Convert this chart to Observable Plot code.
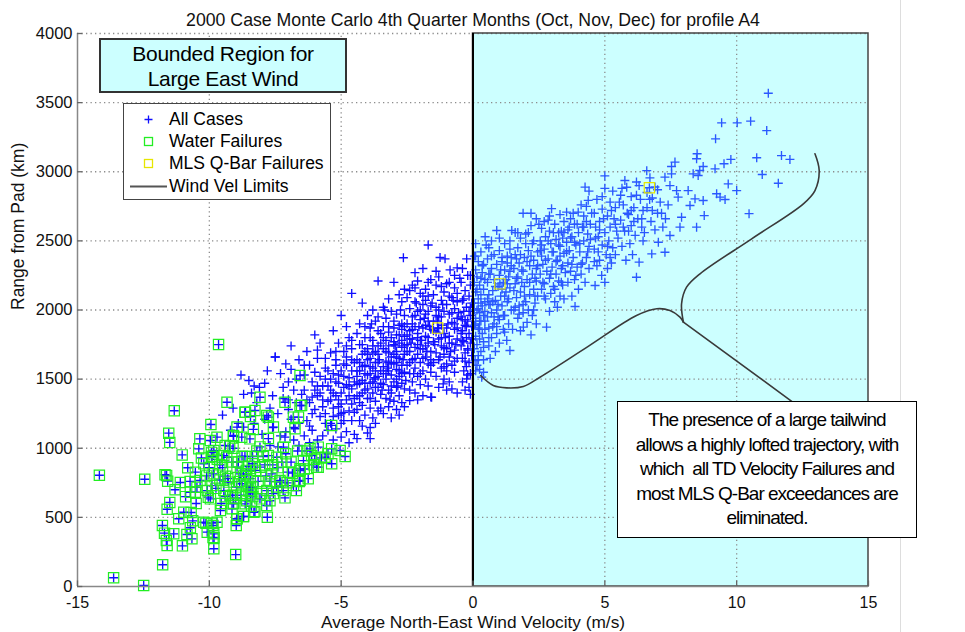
<!DOCTYPE html>
<html><head><meta charset="utf-8">
<script src="https://cdn.jsdelivr.net/npm/d3@7"></script>
<script src="https://cdn.jsdelivr.net/npm/@observablehq/plot@0.6"></script>
<style>
body{margin:0;background:#fff;}
#wrap{position:relative;width:965px;height:632px;overflow:hidden;font-family:"Liberation Sans",Arial,sans-serif;color:#000;}
.box{position:absolute;box-sizing:border-box;}
#bounded{left:99px;top:38px;width:248px;height:55px;background:#ccffff;border:2px solid #333;text-align:center;font-size:21px;line-height:25px;padding-top:1px;letter-spacing:-0.3px;}
#legend{left:123px;top:103px;width:208px;height:97px;background:#fff;border:1.5px solid #444;font-size:17.5px;}
.row{position:absolute;left:0;height:20px;line-height:20px;}
.row svg{position:absolute;left:0;top:0;}
.row span{position:absolute;left:45px;white-space:nowrap;}
#note{left:617px;top:401px;width:300px;height:137px;background:#fff;border:1.5px solid #000;text-align:center;font-size:19px;line-height:24.6px;padding-top:6px;letter-spacing:-1px;white-space:pre;}
#edge{left:900px;top:0;width:1px;height:632px;background:#ddd;}
</style></head><body><div id="wrap"></div>
<script>
// ---- axis ticks ----
const xTicks = [-15, -10, -5, 0, 5, 10, 15];
const yTicks = [0, 500, 1000, 1500, 2000, 2500, 3000, 3500, 4000];
const titleText = "2000 Case Monte Carlo 4th Quarter Months (Oct, Nov, Dec) for profile A4";
const xLabel = "Average North-East Wind Velocity (m/s)";
const yLabel = "Range from Pad (km)";
const legendLabels = ["All Cases", "Water Failures", "MLS Q-Bar Failures", "Wind Vel Limits"];
const boundedText = ["Bounded Region for", "Large East Wind"];
const noteText = ["The presence of a large tailwind", "allows a highly lofted trajectory, with", "which  all TD Velocity Failures and", "most MLS Q-Bar exceedances are", "eliminated."];
const windVelLimit = [0];
const boundedRegion = [{x1: 0, x2: 15, y1: 0, y2: 4000}];

// ---- All Cases (blue +), [velocity m/s, range km] ----
const casesFarLeft = [
[-9.5,1240],[-9.2,1130],[-8.8,1530],[-8.9,1180],[-9.1,1290],[-8.7,1390],[-8.7,1153],
[-8.4,1400],[-8.3,1450],[-8.1,1440],[-8.5,1490],[-7.9,1210],[-7.7,1290],[-7.6,1150],[-8.2,1330],[-7.8,1560],[-7.5,1660],[-8.0,1100],[-7.7,1020],[-8.3,1180],[-7.6,1380],[-7.9,1470],
[-7.5,1660],[-7.1,1610],[-6.9,1740],[-6.6,1640],[-7.3,1540],[-7.0,1480],[-6.8,1420],[-7.2,1360],[-6.7,1330],[-7.4,1250],[-6.9,1210],[-7.1,1120],[-6.6,1180],[-6.8,1060],[-7.3,1090],[-7.0,1280],[-6.7,1500],[-7.2,1440],[-6.5,1390],[-6.9,1570],[-7.4,1010],[-6.6,1020],[-6.8,1150],[-7.0,1350],
[-6.0,1820],[-6.3,1700],[-5.8,1760],[-6.2,1600],[-5.9,1650],[-6.4,1530],[-5.6,1580],[-6.1,1480],[-5.7,1450],[-6.4,1420],[-5.9,1380],[-6.2,1330],[-5.5,1340],[-6.0,1280],[-5.8,1230],[-6.3,1200],[-5.6,1180],[-6.1,1130],[-5.7,1090],[-6.4,1090],[-5.9,1060],[-5.5,1130],[-6.2,1040],[-5.6,1500],[-6.0,1420],[-5.8,1520],[-6.3,1350],[-5.7,1300],[-6.1,1250],[-5.5,1450],[-6.4,1600],[-5.9,1710],[-5.6,1650],[-6.2,1160],[-5.8,1400],[-6.0,1550]
];
const casesLeft = [
[-5.0,1960],[-4.6,2120],[-4.8,1880],[-5.3,1850],[-4.7,1800],[-5.1,1760],[-4.9,1700],[-5.4,1690],[-4.6,1720],[-5.2,1640],[-4.8,1600],[-5.0,1560],[-4.5,1620],[-5.3,1540],[-4.7,1510],[-5.1,1470],[-4.9,1440],[-5.4,1420],[-4.6,1430],[-5.2,1380],[-4.8,1350],[-5.0,1320],[-4.5,1360],[-5.3,1290],[-4.7,1270],[-5.1,1240],[-4.9,1200],[-5.4,1180],[-4.6,1200],[-5.2,1140],[-4.8,1120],[-5.0,1080],[-4.5,1100],[-5.3,1060],[-4.7,1040],[-4.9,1610],[-5.1,1530],[-4.6,1560],[-5.2,1480],[-4.8,1460],[-5.0,1400],[-4.5,1480],[-5.4,1350],[-4.7,1380],[-5.1,1300],[-4.9,1260],[-4.6,1320],[-5.3,1230],[-5.0,1180],[-4.8,1660],
[-3.6,2210],[-4.2,2050],[-3.8,2000],[-4.0,1960],[-3.7,1920],[-4.3,1900],[-3.9,1870],[-4.4,1830],[-3.6,1850],[-4.1,1800],[-3.8,1780],[-4.3,1750],[-3.5,1760],[-4.0,1720],[-3.7,1700],[-4.2,1680],[-3.9,1650],[-4.4,1640],[-3.6,1620],[-4.1,1600],[-3.8,1580],[-4.3,1560],[-3.5,1560],[-4.0,1530],[-3.7,1510],[-4.2,1490],[-3.9,1470],[-4.4,1460],[-3.6,1440],[-4.1,1420],[-3.8,1400],[-4.3,1380],[-3.5,1390],[-4.0,1360],[-3.7,1340],[-4.2,1310],[-3.9,1290],[-4.4,1280],[-3.6,1270],[-4.1,1240],[-3.8,1220],[-4.3,1200],[-3.9,1150],[-4.4,1070],[-3.9,1070],[-4.0,1110],[-3.7,1180],[-4.2,1160],[-3.5,1290],[-4.1,1700],[-3.8,1690],[-4.3,1620],[-3.6,1740],[-4.0,1640],[-3.7,1560],[-4.2,1590],[-3.9,1540],[-4.4,1520],[-3.6,1520],[-4.1,1470],[-3.8,1480],[-4.0,1430],[-3.7,1440],[-4.2,1400],[-3.5,1470],[-4.3,1330],[-3.9,1360],[-3.6,1950],[-4.1,1880]
];
const casesCenterLeft = [
[-3.2,2080],[-2.6,2150],[-3.0,2200],[-2.8,2110],[-3.4,2020],[-2.7,2060],[-3.1,1990],[-2.9,1970],[-3.3,1940],[-2.6,1960],[-3.0,1920],[-2.8,1890],[-3.4,1880],[-2.7,1860],[-3.2,1840],[-2.9,1820],[-3.1,1800],[-2.6,1810],[-3.3,1780],[-2.8,1760],[-3.0,1750],[-2.7,1730],[-3.4,1720],[-2.9,1700],[-3.2,1690],[-2.6,1680],[-3.1,1660],[-2.8,1650],[-3.3,1630],[-3.0,1610],[-2.7,1600],[-3.4,1590],[-2.9,1570],[-3.2,1560],[-2.6,1550],[-3.1,1530],[-2.8,1520],[-3.3,1500],[-3.0,1480],[-2.7,1470],[-3.4,1460],[-2.9,1440],[-3.2,1420],[-2.6,1430],[-3.1,1400],[-2.8,1380],[-3.3,1360],[-3.0,1340],[-2.7,1330],[-3.2,1300],[-2.9,1280],[-3.4,1250],[-2.6,1300],[-2.8,1240],[-3.1,1220],[-3.0,1870],[-2.7,1780],[-3.2,1740],[-2.9,1620],[-3.3,1540],[-2.6,1740],[-3.1,1450],[-2.8,1560],[-3.0,1680],[-2.7,1900],[-3.4,1800],[-2.9,1500],[-3.2,1620],[-2.64,2378],
[-1.7,2470],[-2.4,2140],[-2.2,2270],[-1.9,2300],[-2.1,2210],[-1.6,2220],[-2.3,2180],[-1.8,2150],[-2.0,2120],[-2.5,2090],[-1.7,2100],[-2.2,2060],[-1.9,2040],[-2.4,2010],[-1.6,2030],[-2.1,1990],[-1.8,1970],[-2.3,1950],[-2.0,1930],[-1.7,1920],[-2.5,1900],[-2.2,1880],[-1.9,1870],[-2.4,1850],[-1.6,1860],[-2.1,1830],[-1.8,1810],[-2.3,1790],[-2.0,1780],[-1.7,1760],[-2.5,1750],[-2.2,1730],[-1.9,1720],[-2.4,1700],[-1.6,1700],[-2.1,1680],[-1.8,1660],[-2.3,1640],[-2.0,1620],[-1.7,1610],[-2.5,1600],[-2.2,1580],[-1.9,1560],[-2.4,1540],[-1.6,1550],[-2.1,1520],[-1.8,1500],[-2.3,1480],[-2.0,1460],[-1.7,1450],[-2.4,1420],[-2.2,1400],[-1.9,1380],[-2.4,1345],[-1.6,1370],[-2.1,1350],[-2.0,2000],[-1.8,1890],[-2.2,1960],[-1.7,1800],[-2.3,1860],[-1.9,1650],[-2.1,1750],[-1.6,1640],[-2.0,1540],[-2.4,1790],[-1.8,2070],[-2.2,2160],[-1.7,1990],[-2.5,1820],
[-1.25,2380],[-1.06,2370],[-0.87,2290],[-0.6,2305],[-1.3,2240],[-0.9,2200],[-1.4,2180],[-0.7,2160],[-1.1,2130],[-1.5,2110],[-0.8,2090],[-1.2,2070],[-0.6,2060],[-1.0,2040],[-1.4,2020],[-0.7,2010],[-1.1,1990],[-0.9,1970],[-1.3,1950],[-0.6,1940],[-1.5,1920],[-0.8,1910],[-1.2,1890],[-1.0,1870],[-0.7,1860],[-1.4,1840],[-1.1,1830],[-0.9,1810],[-1.3,1790],[-0.6,1790],[-1.5,1770],[-0.8,1760],[-1.2,1740],[-1.0,1720],[-0.7,1710],[-1.4,1690],[-1.1,1680],[-0.9,1660],[-1.3,1640],[-0.6,1650],[-1.5,1620],[-0.8,1600],[-1.2,1580],[-1.0,1560],[-0.7,1550],[-1.4,1520],[-1.1,1500],[-1.13,1466],[-0.9,1480],[-1.57,1369],[-1.3,1440],[-0.8,1430],[-0.6,1400],[-1.0,1420],[-0.9,2100],[-1.2,2170],[-0.7,2250],[-1.4,1960],[-1.1,1730],[-0.8,1980],[-1.3,1870],[-0.6,1870],[-1.0,1610],[-1.2,1800],[-0.7,1900],
[-0.24,2370],[-0.4,2300],[-0.2,2250],[-0.45,2200],[-0.1,2180],[-0.3,2140],[-0.15,2100],[-0.4,2070],[-0.05,2050],[-0.25,2020],[-0.35,1990],[-0.1,1960],[-0.45,1950],[-0.2,1920],[-0.3,1890],[-0.05,1880],[-0.4,1850],[-0.15,1830],[-0.25,1800],[-0.35,1770],[-0.1,1760],[-0.45,1740],[-0.2,1710],[-0.3,1690],[-0.05,1670],[-0.4,1650],[-0.15,1620],[-0.25,1590],[-0.35,1560],[-0.1,1540],[-0.24,1502],[-0.4,1480],[-0.15,1440],[-0.3,1420],[-0.1,1390],[-0.2,1720],[-0.3,1930],[-0.1,2020],[-0.4,1780]
];
const casesCoreWest = [
[-5.9,1450],[-5.7,1350],[-5.5,1560],[-5.3,1400],[-5.2,1600],[-5.1,1350],[-4.9,1520],[-4.7,1450],[-4.6,1640],[-4.4,1560],[-4.3,1470],[-4.2,1750],[-4.1,1540],[-4.0,1680],[-3.9,1590],[-4.5,1260],[-5.0,1250],[-5.4,1500],[-4.8,1740],[-4.4,1380],[-6.1,1370],[-5.6,1250],[-5.2,1700],[-4.6,1780],
[-3.9,1800],[-3.8,1740],[-3.7,1620],[-3.6,1680],[-3.5,1830],[-3.4,1540],[-3.3,1700],[-3.2,1880],[-3.1,1610],[-3.0,1770],[-2.9,1660],[-2.8,1820],[-2.7,1540],[-2.6,1880],[-2.5,1700],[-2.4,1620],[-2.3,1900],[-2.2,1650],[-2.1,1800],[-2.0,1720],[-3.75,1500],[-3.45,1420],[-3.15,1350],[-2.85,1450],[-2.55,1490],[-2.25,1540],[-2.05,1880],[-3.55,1640],[-3.25,1580],[-2.95,1740],[-2.65,1640],[-2.35,1760],[-3.85,1900],[-3.35,2000],[-2.75,2000],[-2.15,2050],
[-1.95,1780],[-1.85,1940],[-1.75,1700],[-1.65,1880],[-1.55,2050],[-1.45,1750],[-1.35,1920],[-1.25,1660],[-1.15,2040],[-1.05,1800],[-0.95,1900],[-0.85,1700],[-0.75,2070],[-0.65,1750],[-0.55,1980],[-0.45,1830],[-0.35,2080],[-0.25,1880],[-0.15,1990],[-0.05,1790],[-1.9,2100],[-1.6,1600],[-1.3,2000],[-1.0,2190],[-0.7,1630],[-0.4,1930],[-0.1,2250],[-1.8,1740],[-1.5,1850],[-1.2,1950],[-0.9,1760],[-0.6,2120],[-0.3,1630],[-1.7,2200],[-1.1,1590],[-0.5,2230],[-0.2,1530],[-1.4,2280]
];
const casesCoreEast = [
[0.05,2000],[0.15,2150],[0.25,1860],[0.35,2320],[0.45,1920],[0.55,2080],[0.65,2260],[0.75,1880],[0.85,2170],[0.95,2040],[1.05,2290],[1.15,1960],[1.25,2220],[1.35,2080],[1.45,2380],[1.55,2140],[1.65,2230],[1.75,1970],[1.85,2290],[1.95,2100],[0.2,1640],[0.4,1730],[0.6,1800],[0.8,1950],[1.0,2520],[1.2,1840],[1.4,2500],[1.6,2020],[1.8,2400],[0.1,2390],[0.3,2050],[0.5,2470],[0.7,2390],[0.9,1880],[1.1,2150],[1.3,2340],[1.5,1860],[1.7,2560],[1.9,2040],
[2.05,2350],[2.15,2200],[2.25,2480],[2.35,2100],[2.45,2320],[2.55,2430],[2.65,2200],[2.75,2360],[2.85,2500],[2.95,2260],[3.05,2560],[3.15,2350],[3.25,2470],[3.35,2200],[3.45,2560],[3.55,2420],[3.65,2600],[3.75,2330],[3.85,2490],[3.95,2620],[2.1,2560],[2.5,2620],[2.9,2680],[3.3,2390],[3.7,2520],[2.3,2000],[2.7,2100],[3.1,2150],[3.5,2270],[3.9,2250],[2.2,2700],[2.6,2470],[3.0,2420],[3.4,2320],[3.8,2700],
[4.05,2480],[4.2,2600],[4.35,2420],[4.5,2700],[4.65,2520],[4.8,2580],[4.95,2660],[5.1,2460],[5.25,2720],[5.4,2620],[5.55,2780],[5.7,2600],[5.85,2700],[6.0,2720],[6.2,2830],[6.4,2660],[6.6,2850],[6.8,2720],[4.3,2750],[4.6,2350],[4.9,2820],[5.2,2380],[5.5,2520],[5.9,2570],[6.3,2900],[6.7,2800],[7.0,2870],[4.1,2330],[4.4,2860],[4.75,2420],[5.3,2860],[5.65,2880],[6.1,2640],[6.5,2560],[7.15,2700]
];
const casesCenterRight = [
[0.1,2480],[0.46,2530],[0.3,2420],[0.05,2390],[0.2,2350],[0.4,2330],[0.1,2290],[0.35,2270],[0.15,2240],[0.45,2220],[0.05,2200],[0.25,2180],[0.4,2150],[0.1,2130],[0.3,2110],[0.2,2080],[0.45,2060],[0.05,2050],[0.35,2030],[0.15,2000],[0.25,1980],[0.4,1960],[0.1,1940],[0.3,1920],[0.05,1890],[0.2,1870],[0.45,1860],[0.35,1830],[0.1,1810],[0.25,1790],[0.4,1770],[0.15,1750],[0.05,1720],[0.3,1700],[0.2,1670],[0.08,1635],[0.4,1640],[0.15,1600],[0.33,1514],[0.25,1570],[0.1,1560],[0.4,1550],[0.2,2010],[0.3,2230],[0.1,1900],[0.45,1990],[0.25,1920],
[0.9,2575],[1.47,2575],[0.7,2500],[1.2,2480],[0.6,2450],[1.0,2430],[1.4,2440],[0.8,2400],[1.3,2390],[0.55,2370],[1.1,2350],[0.9,2330],[1.45,2320],[0.7,2300],[1.2,2290],[0.6,2260],[1.0,2250],[1.35,2240],[0.8,2220],[1.15,2200],[0.55,2200],[0.95,2170],[1.4,2160],[0.75,2140],[1.25,2130],[0.6,2110],[1.05,2100],[0.85,2070],[1.3,2060],[0.65,2040],[1.1,2030],[0.9,2000],[1.45,2000],[0.7,1980],[1.2,1960],[0.55,1950],[1.0,1930],[0.8,1900],[1.35,1900],[0.6,1870],[1.15,1860],[0.9,1830],[0.7,1800],[1.28,1780],[1.0,1760],[0.6,1740],[0.85,1700],[1.4,1707],[0.65,1650],[1.1,2380],[0.75,2060],[1.3,2190],[0.95,1950],[1.2,2100],[0.6,2040],[1.4,2280],
[1.9,2700],[1.6,2560],[2.2,2610],[2.4,2660],[1.8,2520],[2.0,2480],[2.3,2500],[1.7,2450],[2.1,2430],[2.45,2420],[1.6,2400],[1.95,2380],[2.3,2360],[1.75,2340],[2.15,2320],[2.4,2300],[1.55,2300],[1.9,2280],[2.25,2260],[1.7,2240],[2.05,2220],[2.4,2210],[1.6,2190],[1.95,2170],[2.3,2150],[1.8,2130],[2.15,2110],[2.45,2100],[1.65,2090],[2.0,2060],[2.35,2050],[1.75,2030],[2.1,2000],[1.55,2000],[1.9,1980],[2.25,1960],[1.7,1940],[2.05,1910],[1.91,1876],[2.4,1900],[1.8,1850],[2.2,1820],[2.0,2550],[1.85,2200],[2.2,2390],[2.35,2230],[1.65,2370]
];
const casesRight = [
[2.98,2733],[3.3,2690],[2.7,2640],[3.1,2620],[3.45,2640],[2.6,2590],[2.9,2570],[3.25,2560],[2.75,2530],[3.15,2510],[3.4,2520],[2.55,2500],[2.95,2480],[3.3,2460],[2.7,2440],[3.05,2420],[3.45,2410],[2.6,2390],[2.85,2370],[3.2,2360],[2.65,2330],[3.0,2310],[3.35,2300],[2.8,2280],[3.15,2260],[2.55,2260],[2.9,2230],[3.25,2210],[2.7,2190],[3.05,2170],[3.4,2180],[2.6,2150],[2.95,2120],[3.3,2100],[2.75,2080],[3.1,2060],[2.79,1876],[2.9,1990],[3.2,2020],[3.45,2080],[3.35,2570],[2.85,2650],
[3.55,2708],[3.99,2708],[4.25,2889],[4.37,2793],[4.1,2760],[3.7,2660],[4.3,2640],[3.85,2620],[4.15,2600],[4.45,2620],[3.6,2580],[4.0,2560],[4.35,2550],[3.75,2530],[4.2,2500],[3.55,2490],[3.9,2470],[4.4,2460],[3.65,2430],[4.05,2420],[4.3,2380],[3.8,2380],[4.15,2340],[3.6,2340],[3.95,2310],[4.4,2300],[3.7,2280],[4.1,2260],[3.85,2220],[4.25,2200],[3.6,2200],[4.0,2150],[3.87,2025],[3.75,2100],[4.45,2510],[4.2,2680],
[5.0,2970],[5.0,2880],[4.7,2800],[5.2,2780],[4.9,2730],[5.4,2740],[4.6,2700],[5.1,2680],[5.35,2660],[4.8,2640],[5.2,2600],[4.65,2600],[5.0,2560],[5.45,2570],[4.75,2530],[5.15,2500],[4.9,2470],[5.3,2450],[4.6,2440],[5.05,2400],[4.8,2360],[5.25,2340],[4.63,2177],[4.88,2250],[5.1,2300],[5.4,2400],[4.7,2320],[5.0,2200]
];
const casesFarRight = [
[5.83,2888],[5.76,2937],[6.2,2926],[6.59,3008],[5.6,2830],[6.0,2820],[6.35,2800],[5.7,2760],[6.1,2740],[6.45,2720],[5.9,2690],[6.25,2660],[5.6,2650],[6.0,2610],[6.4,2600],[5.75,2570],[6.15,2540],[5.95,2480],[6.3,2346],[6.2,2237],[5.65,2460],[6.45,2500],[6.05,2400],[5.8,2360],
[6.71,2956],[6.9,2890],[7.47,2900],[7.28,2961],[7.53,2985],[6.8,2810],[7.1,2780],[7.4,2760],[6.6,2740],[7.0,2700],[7.3,2660],[6.75,2640],[7.03,2490],[6.78,2406],[7.28,2418],[7.47,2539],[6.9,2580],[7.2,2600],
[7.66,3070],[7.53,3038],[7.72,2864],[8.16,2864],[7.78,2816],[8.35,2985],[8.23,2756],[7.91,2671],[7.85,2599],[8.42,2804],[8.48,2599],[8.5,3130],[8.48,3094],
[8.54,2973],[8.73,3038],[8.6,3009],[8.77,2683],[8.73,2792],[9.2,3238],[9.43,3354],[9.18,3021],[9.24,2841],[9.37,2816],
[9.52,3058],[9.78,3089],[9.56,2799],[9.68,2912],[10.0,2864],[10.02,3354],[10.47,2697],[10.53,3366],
[10.76,3101],[10.97,2980],[11.14,3298],[11.2,3568],[11.58,2917],[11.7,3117],[12.02,3089]
];
// ---- Water Failures (green squares) ----
const waterFailures = [
[-9.65,1750],[-9.33,1333],[-11.33,1271],[-11.54,1109],[-11.5,1042],[-14.17,805],[-12.45,776],[-11.68,808],[-11.58,762],[-11.1,752],[-11.5,608],[-11.6,559],[-11.78,441],[-11.7,386],[-11.63,333],[-11.6,297],[-11.77,157],[-13.63,63],[-12.49,7],[-11.35,381],[-11.02,294],[-11.16,490],[-10.97,537],[-10.69,535],[-10.63,475],[-10.72,425],[-10.85,376],[-10.66,345],[-10.21,465],[-10.08,393],[-9.86,441],[-9.83,381],[-9.86,355],[-9.83,273],[-9.0,231],[-9.71,465],
[-10.36,1068],[-10.4,996],[-11.03,952],[-10.82,859],[-10.53,827],[-10.21,888],[-9.94,1172],[-9.96,1056],[-9.83,984],[-9.88,940],[-9.71,1080],[-9.23,1015],[-9.08,1087],[-9.45,947],[-9.39,798],[-8.76,942],[-8.95,863],[-10.72,682],[-10.53,682],[-10.47,718],[-10.08,694],[-9.96,634],[-9.9,730],[-9.45,694],[-9.2,658],[-9.12,660],[-9.58,550],[-9.14,562],[-8.95,490],[-8.98,441],[-8.7,506],[-8.64,598],[-9.08,598],[-8.76,743],[-8.44,718],[-8.44,670],[-8.31,537],[-8.82,815],[-8.6,840],[-8.37,888],[-8.7,800],[-8.45,780],[-8.95,1153],[-8.63,1261],[-8.44,1230],
[-8.27,542],[-7.8,501],[-7.82,586],[-7.13,641],[-6.59,760],[-8.08,634],[-8.58,620],[-9.09,603],[-9.4,650],[-9.34,935],[-9.4,1020],[-8.36,940],[-8.58,815],[-8.08,863],[-7.76,947],[-7.63,815],[-7.32,767],[-7.0,827],[-6.81,730],[-6.56,839],[-6.43,911],[-6.12,947],[-5.87,863],[-5.61,935],[-5.36,996],[-5.04,984],[-4.85,940],[-5.36,888],[-5.87,1008],[-6.18,996],[-7.13,1080],[-6.75,1141],[-6.62,1225],[-7.13,1333],[-6.56,1309],[-8.08,1369],[-8.27,1273],[-7.76,1225],[-7.57,1153],[-8.65,1261],[-8.77,1080],[-8.46,1068],[-9.09,1092],[-7.76,1070],[-8.33,1136],[-7.19,1008],[-7.44,935],[-8.08,1010],[-9.1,1000],[-9.92,970],[-9.92,940],[-9.85,815],[-9.6,770],[-9.28,755],[-8.97,720],[-8.6,725],[-8.35,720],[-7.82,694],[-7.57,672],[-8.02,672],[-7.2,694],[-6.7,694],[-8.35,650],[-10.35,767],[-10.73,760],[-5.93,863],[-6.56,851],[-6.56,767],[-7.32,755],[-6.5,1309],[-6.81,1225],[-6.56,1526],[-5.36,1165],[-7.82,1237],[-11.62,803],[-10.04,646],[-10.13,458],[-9.91,458],[-9.82,352],[-8.96,490],[-8.71,506],
[-8.9,900],[-8.2,980],[-7.9,880],[-7.4,860],[-6.9,900],[-6.3,980],[-7.7,760],[-8.5,870],[-9.6,880],[-10.0,860],[-9.7,920],[-7.1,960],[-6.0,920],[-5.5,960],[-8.8,660],
[-10.3,930],[-10.1,800],[-9.75,710],[-9.5,860],[-9.3,780],[-9.15,900],[-8.85,760],[-8.65,940],[-8.5,690],[-8.25,840],[-8.15,760],[-7.95,940],[-7.85,800],[-7.6,880],[-7.45,720],[-7.25,900],[-7.05,750],[-6.85,820],[-6.65,980],[-6.4,850],[-6.25,780],[-6.05,880],[-5.75,930],[-9.55,600],[-9.0,640],[-8.4,580],[-7.7,620],[-10.5,600],[-10.9,650],[-11.3,700]
];
// ---- MLS Q-Bar Failures (yellow squares) ----
const qbarFailures = [[-1.34,1869],[1.02,2189],[6.69,2884]];

// ---- annotation brace and pointer (data units) ----
const braceLower = [[0.29,1526],[0.77,1454],[1.28,1437],[1.91,1447],[2.54,1514],[4.37,1737],[6.2,1960],[6.97,2009],[7.47,1996],[7.85,1948],[7.98,1912]];
const braceUpper = [[7.98,1912],[7.91,2045],[8.1,2165],[8.61,2262],[10.57,2515],[12.53,2768],[12.97,2864],[13.13,3009],[12.97,3130]];
const pointer = [[7.98,1912],[12.1,1338]];

const allCases = [...casesFarLeft, ...casesLeft, ...casesCenterLeft, ...casesCoreWest, ...casesCoreEast, ...casesCenterRight, ...casesRight, ...casesFarRight, ...waterFailures, ...qbarFailures];
const onWhite = allCases.filter(d => d[0] < 0);
const onCyan = allCases.filter(d => d[0] >= 0);

const plot = Plot.plot({
  width: 965, height: 632,
  marginLeft: 77, marginRight: 97, marginTop: 33, marginBottom: 46,
  x: {domain: [-15, 15]},
  y: {domain: [0, 4000]},
  style: {fontFamily: "Liberation Sans, Arial, sans-serif", fontSize: "16.5px", color: "#111", background: "transparent"},
  marks: [
    Plot.rect(boundedRegion, {x1: "x1", x2: "x2", y1: "y1", y2: "y2", fill: "#ccffff"}),
    Plot.ruleX(xTicks.filter(d => d !== -15 && d !== 0 && d !== 15), {y1: 0, y2: 4000, stroke: "#8c8c8c", strokeWidth: 1.3, strokeDasharray: "1.3,3.2"}),
    Plot.ruleY(yTicks.filter(d => d > 0), {x1: -15, x2: 15, stroke: "#8c8c8c", strokeWidth: 1.3, strokeDasharray: "1.3,3.2"}),
    Plot.rect(boundedRegion, {x1: "x1", x2: "x2", y1: "y1", y2: "y2", fill: "none", stroke: "#444", strokeWidth: 1.5}),
    Plot.dot(onWhite, {x: d => d[0], y: d => d[1], symbol: "plus", r: 3, stroke: "#1010ff", strokeWidth: 1.35}),
    Plot.dot(onCyan, {x: d => d[0], y: d => d[1], symbol: "plus", r: 3, stroke: "#2a58ff", strokeWidth: 1.35}),
    Plot.dot(waterFailures, {x: d => d[0], y: d => d[1], symbol: "square", r: 5.8, stroke: "#22ee22", strokeWidth: 1.2}),
    Plot.dot(qbarFailures, {x: d => d[0], y: d => d[1], symbol: "square", r: 5.8, stroke: "#e6e600", strokeWidth: 1.2}),
    Plot.ruleX(windVelLimit, {y1: 0, y2: 4000, stroke: "#000", strokeWidth: 2}),
    Plot.ruleX([-15], {y1: 0, y2: 4000, stroke: "#888", strokeWidth: 1.5}),
    Plot.ruleY([0], {x1: -15, x2: 15, stroke: "#888", strokeWidth: 1.5}),
    Plot.ruleX(xTicks, {y1: 0, y2: 40, stroke: "#666", strokeWidth: 1.3}),
    Plot.ruleY(yTicks, {x1: -15, x2: -14.8, stroke: "#666", strokeWidth: 1.3}),
    Plot.line(braceLower, {x: d => d[0], y: d => d[1], curve: "catmull-rom", stroke: "#3a3a3a", strokeWidth: 1.6}),
    Plot.line(braceUpper, {x: d => d[0], y: d => d[1], curve: "catmull-rom", stroke: "#3a3a3a", strokeWidth: 1.6}),
    Plot.line(pointer, {x: d => d[0], y: d => d[1], stroke: "#3a3a3a", strokeWidth: 1.6}),
    Plot.axisX({ticks: xTicks, tickFormat: d => String(d), tickSize: 0, tickPadding: 10, fontSize: 16, label: null, fill: "#111"}),
    Plot.axisY({ticks: yTicks, tickFormat: d => String(d), tickSize: 0, tickPadding: 5, label: null, fill: "#111"}),
    Plot.text([titleText], {frameAnchor: "top", dy: -20, fontSize: 17.7, fill: "#111"}),
    Plot.text([xLabel], {frameAnchor: "bottom", dy: 41, fontSize: 17.3, fill: "#111"}),
    Plot.text([yLabel], {frameAnchor: "left", dx: -59, rotate: -90, fontSize: 17.5, fill: "#111"})
  ]
});

const wrap = document.getElementById("wrap");
wrap.appendChild(plot);

const edge = document.createElement("div"); edge.className = "box"; edge.id = "edge"; wrap.appendChild(edge);

const bounded = document.createElement("div");
bounded.className = "box"; bounded.id = "bounded";
bounded.innerHTML = boundedText.join("<br>");
wrap.appendChild(bounded);

const legend = document.createElement("div");
legend.className = "box"; legend.id = "legend";
const sym = [
  '<svg width="45" height="20"><path d="M24.5 6.5v8M20.5 10.5h8" stroke="#1010ff" stroke-width="1.3" fill="none"/></svg>',
  '<svg width="45" height="20"><rect x="20.5" y="6.5" width="8" height="8" stroke="#22ee22" stroke-width="1.3" fill="none"/></svg>',
  '<svg width="45" height="20"><rect x="20.5" y="6.5" width="8" height="8" stroke="#e6e600" stroke-width="1.3" fill="none"/></svg>',
  '<svg width="45" height="20"><path d="M6 10.5h37" stroke="#555" stroke-width="1.8" fill="none"/></svg>'
];
const rowTops = [5, 27, 49, 72];
legendLabels.forEach((t, i) => {
  const r = document.createElement("div");
  r.className = "row"; r.style.top = rowTops[i] + "px";
  r.innerHTML = sym[i] + "<span>" + t + "</span>";
  legend.appendChild(r);
});
wrap.appendChild(legend);

const note = document.createElement("div");
note.className = "box"; note.id = "note";
note.textContent = noteText.join("\n");
wrap.appendChild(note);
</script></body></html>
